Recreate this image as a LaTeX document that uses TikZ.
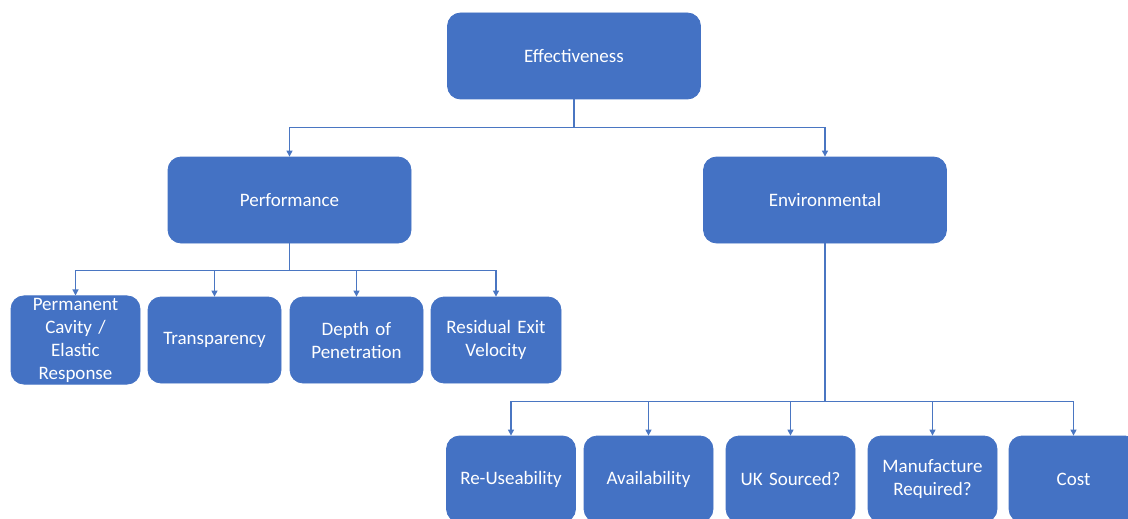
\documentclass[tikz,border=0pt]{standalone}
\usepackage{fontspec}
\setmainfont{Carlito}
\usepackage{xcolor}
\usetikzlibrary{arrows.meta,positioning}
\definecolor{boxblue}{HTML}{4472C4}
\definecolor{linkblue}{HTML}{4A76C2}
\tikzset{
  box/.style={rectangle, rounded corners=13pt, draw=boxblue, fill=boxblue, line width=0.8pt,
              align=center, inner sep=2pt, text=white, font=\fontsize{19}{23}\selectfont},
  topbox/.style={box, minimum width=253pt, minimum height=86pt},
  midbox/.style={box, minimum width=243pt, minimum height=86pt},
  leafbox/.style={box, minimum width=129pt, minimum height=86pt, text width=118pt},
  link/.style={draw=linkblue, line width=1.2pt, line cap=rect},
  flow/.style={draw=linkblue, line width=1.2pt, -{Triangle[length=6pt,width=6pt]}},
}
\begin{document}
\begin{tikzpicture}[x=1pt,y=-1pt]
\useasboundingbox (0,0) rectangle (1128,519);
\clip (0,0) rectangle (1128,519);
% top level
\node[topbox] (eff) at (574,56) {Effectiveness};
% second level
\node[midbox] (perf) at (289.5,200) {Performance};
\node[midbox] (env) at (825,200) {Environmental};
% performance measures
\node[leafbox] (cavity) at (75.5,340) {Permanent\\Cavity /\\Elastic\\Response};
\node[leafbox, minimum width=133pt] (transp) at (214.5,340) {Transparency};
\node[leafbox, minimum width=133pt] (depth) at (356.5,340) {Depth of\\Penetration};
\node[leafbox, minimum width=130pt] (resid) at (496,340) {Residual Exit\\Velocity};
% environmental measures
\node[leafbox] (reuse) at (511,479) {Re-Useability};
\node[leafbox] (avail) at (648.5,479) {Availability};
\node[leafbox] (uksrc) at (790.5,479) {UK Sourced?};
\node[leafbox] (manuf) at (932.5,479) {Manufacture\\Required?};
\node[leafbox] (cost) at (1073.5,479) {Cost};
% connectors
\draw[link] (eff.south) -- ++(0,28) coordinate (effbar);
\draw[link] (perf.north |- effbar) -- (env.north |- effbar);
\foreach \n in {perf,env}
  \draw[flow] (\n.north |- effbar) -- (\n.north);
\draw[link] (perf.south) -- ++(0,27) coordinate (perfbar);
\draw[link] (cavity.north |- perfbar) -- (resid.north |- perfbar);
\foreach \n in {cavity,transp,depth,resid}
  \draw[flow] (\n.north |- perfbar) -- (\n.north);
\draw[link] (env.south) -- ++(0,158) coordinate (envbar);
\draw[link] (reuse.north |- envbar) -- (cost.north |- envbar);
\foreach \n in {reuse,avail,uksrc,manuf,cost}
  \draw[flow] (\n.north |- envbar) -- (\n.north);
\end{tikzpicture}
\end{document}
